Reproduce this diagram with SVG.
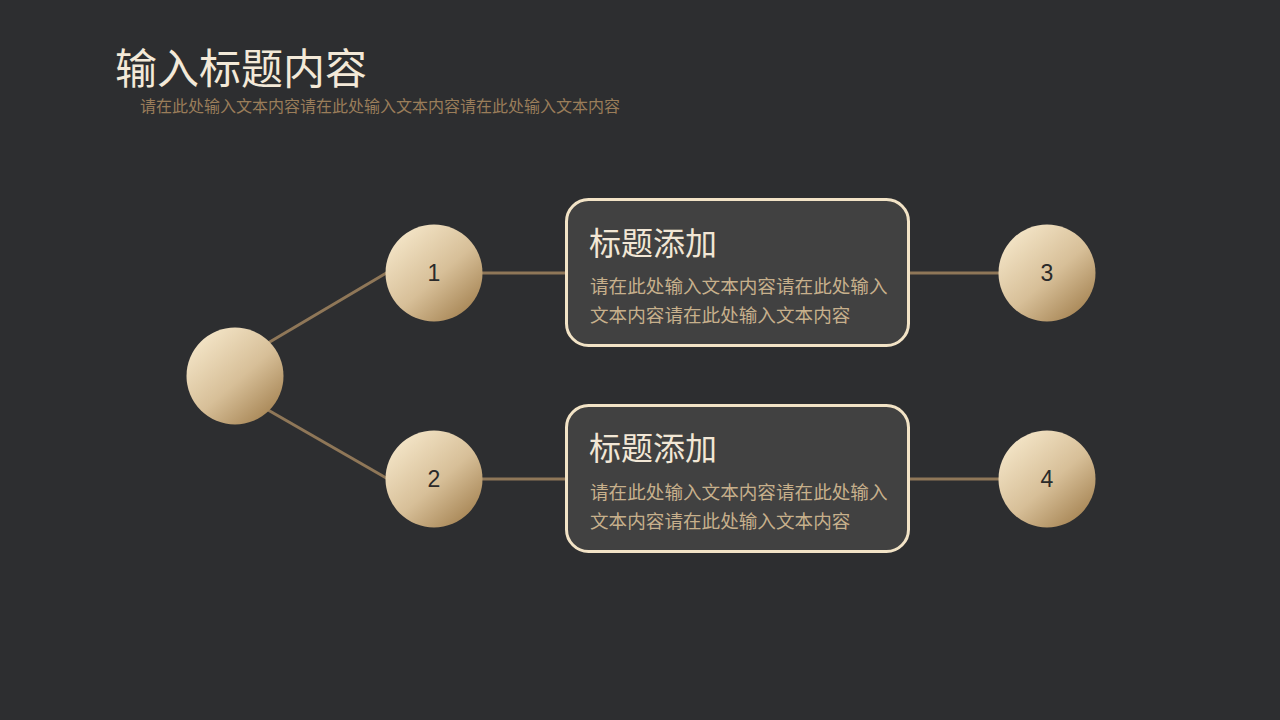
<svg xmlns="http://www.w3.org/2000/svg" width="1280" height="720" viewBox="0 0 1280 720">
<defs>
<linearGradient id="g" x1="0.15" y1="0.1" x2="0.85" y2="0.9">
<stop offset="0" stop-color="#f3e4c6"/>
<stop offset="0.55" stop-color="#d7bf98"/>
<stop offset="1" stop-color="#a98858"/>
</linearGradient>
<style>
.ball{fill:url(#g)}
.num{font-family:"Liberation Sans",Arial,sans-serif;font-size:23px;fill:#2a2a2a;text-anchor:middle}
.box{fill:#414141;stroke:#f2e3c6;stroke-width:3}
.bt{font-family:"Noto Sans CJK SC",sans-serif;font-size:32px;fill:#f2e7d6}
.bd{font-family:"Noto Sans CJK SC",sans-serif;font-size:18.6px;fill:#c7b08c}
.ln{stroke:#8f7758;stroke-width:3;fill:none}
</style>
</defs>
<rect width="1280" height="720" fill="#2d2e30"/>
<g id="title">
<text x="115" y="84" font-family="Noto Sans CJK SC, sans-serif" font-size="42" fill="#f3e9d8">输入标题内容</text>
<text x="140" y="112" font-family="Noto Sans CJK SC, sans-serif" font-size="16" fill="#9a7d5a">请在此处输入文本内容请在此处输入文本内容请在此处输入文本内容</text>
</g>
<g id="connectors">
<line class="ln" x1="268" y1="343" x2="388" y2="272"/>
<line class="ln" x1="268" y1="410" x2="388" y2="479"/>
<line class="ln" x1="482" y1="273" x2="567" y2="273"/>
<line class="ln" x1="908" y1="273" x2="1000" y2="273"/>
<line class="ln" x1="482" y1="479" x2="567" y2="479"/>
<line class="ln" x1="908" y1="479" x2="1000" y2="479"/>
</g>
<g id="root"><circle class="ball" cx="235" cy="376" r="48.5"/></g>
<g id="n1"><circle class="ball" cx="434" cy="273" r="48.5"/><text class="num" x="434" y="281">1</text></g>
<g id="n2"><circle class="ball" cx="434" cy="479" r="48.5"/><text class="num" x="434" y="487">2</text></g>
<g id="n3"><circle class="ball" cx="1047" cy="273" r="48.5"/><text class="num" x="1047" y="281">3</text></g>
<g id="n4"><circle class="ball" cx="1047" cy="479" r="48.5"/><text class="num" x="1047" y="487">4</text></g>
<g id="box1">
<rect class="box" x="566.5" y="199.5" width="342" height="146" rx="22"/>
<text class="bt" x="589" y="255">标题添加</text>
<text class="bd" x="590" y="293">请在此处输入文本内容请在此处输入</text>
<text class="bd" x="590" y="322">文本内容请在此处输入文本内容</text>
</g>
<g id="box2">
<rect class="box" x="566.5" y="405.5" width="342" height="146" rx="22"/>
<text class="bt" x="589" y="460">标题添加</text>
<text class="bd" x="590" y="499">请在此处输入文本内容请在此处输入</text>
<text class="bd" x="590" y="528">文本内容请在此处输入文本内容</text>
</g>
</svg>
